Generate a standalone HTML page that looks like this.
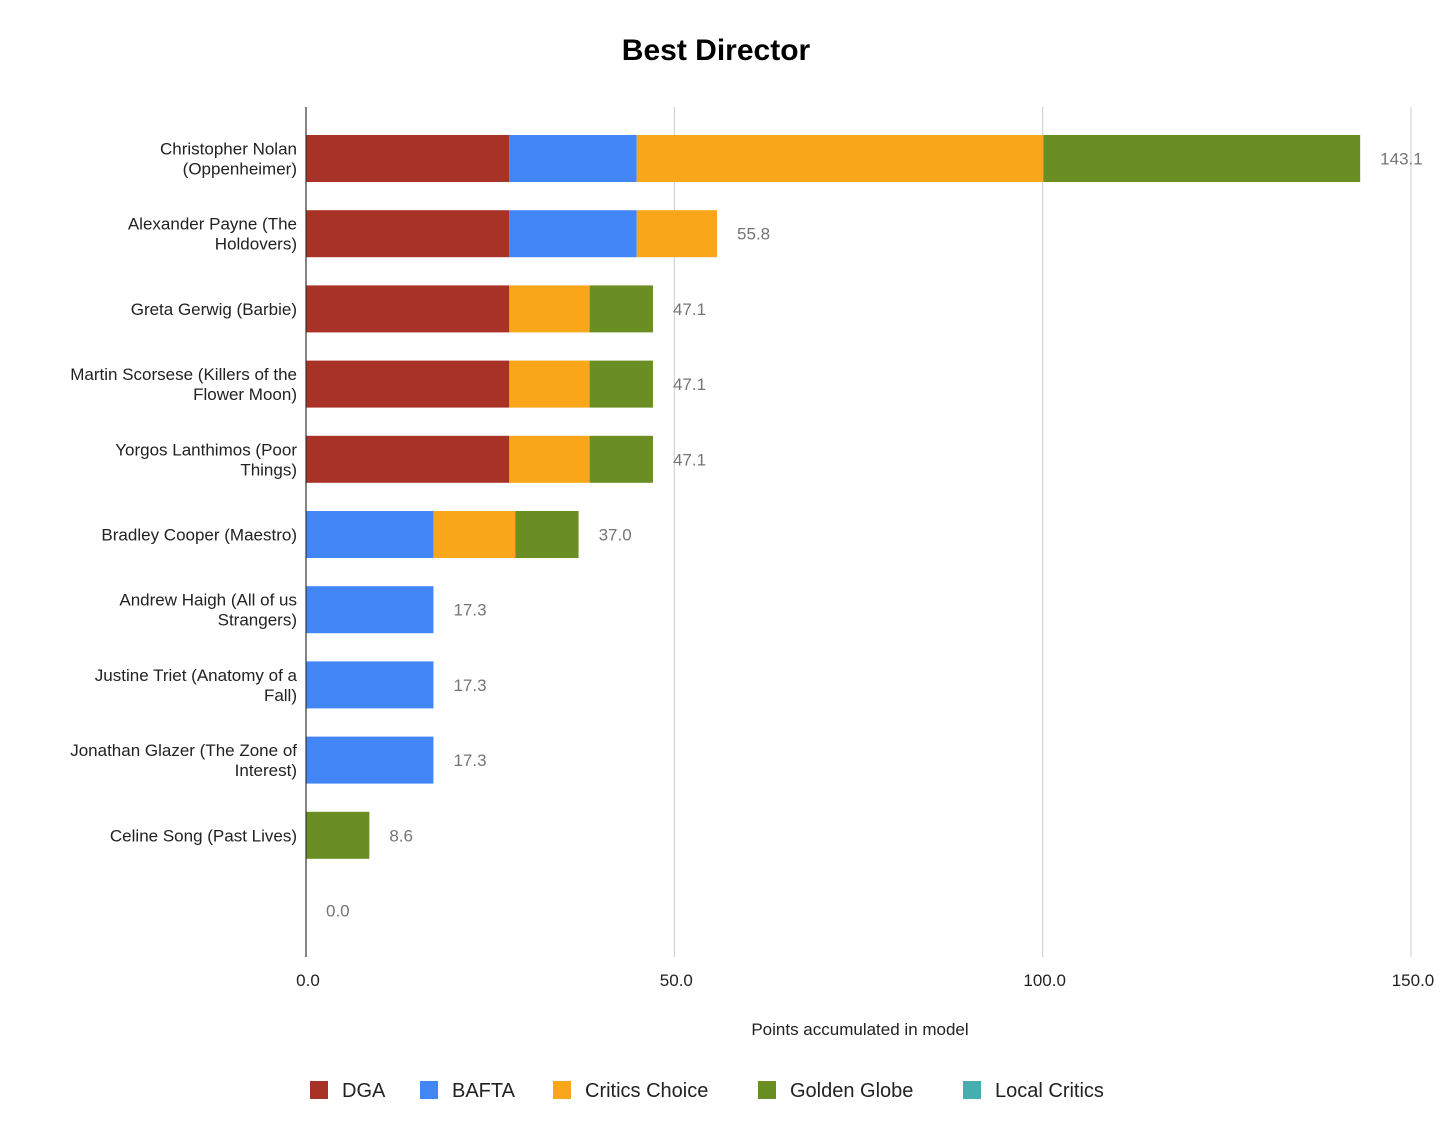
<!DOCTYPE html>
<html><head><meta charset="utf-8"><style>
body{margin:0;background:#fff;font-family:"Liberation Sans",Arial,sans-serif;}
</style></head><body>
<svg id="chart" width="1456" height="1125" xmlns="http://www.w3.org/2000/svg"></svg>
<script>
const categories=[["Christopher Nolan","(Oppenheimer)"],["Alexander Payne (The","Holdovers)"],["Greta Gerwig (Barbie)"],["Martin Scorsese (Killers of the","Flower Moon)"],["Yorgos Lanthimos (Poor","Things)"],["Bradley Cooper (Maestro)"],["Andrew Haigh (All of us","Strangers)"],["Justine Triet (Anatomy of a","Fall)"],["Jonathan Glazer (The Zone of","Interest)"],["Celine Song (Past Lives)"],[""]];
const seriesNames=["DGA","BAFTA","Critics Choice","Golden Globe","Local Critics"];
const dga=[27.6,27.6,27.6,27.6,27.6,0,0,0,0,0,0];
const bafta=[17.3,17.3,0,0,0,17.3,17.3,17.3,17.3,0,0];
const critics=[55.2,10.9,10.9,10.9,10.9,11.1,0,0,0,0,0];
const globe=[43.0,0,8.6,8.6,8.6,8.6,0,0,0,8.6,0];
const local=[0,0,0,0,0,0,0,0,0,0,0];
const xTicks=[0,50,100,150];
const colors=["#a93226","#4285f4","#f9a61a","#6a8e23","#46aeae"];
const series=[dga,bafta,critics,globe,local];
const svg=document.getElementById('chart');
const NS="http://www.w3.org/2000/svg";
function mk(t,a,txt){const e=document.createElementNS(NS,t);for(const k in a)e.setAttribute(k,a[k]);if(txt!==undefined)e.textContent=txt;svg.appendChild(e);return e;}
const x0=306,pxPer=(1411-306)/150,plotTop=107,plotBottom=957;
const X=v=>x0+v*pxPer;
const rowStep=75.2,firstTop=135,barH=47;
const Y=i=>firstTop+i*rowStep;
let e;
e=mk('text',{x:716,y:60,'text-anchor':'middle','font-size':30,'font-weight':'bold',fill:'#000'},'Best Director');


xTicks.forEach(t=>{
 if(t>0){e=mk('line',{x1:X(t),x2:X(t),y1:plotTop,y2:plotBottom,stroke:'#cccccc','stroke-width':1});
 
 }
 e=mk('text',{x:X(t)+2,y:986,'text-anchor':'middle','font-size':17,fill:'#222'},t.toFixed(1));
 
 
});
categories.forEach((c,i)=>{
 let acc=0;
 series.forEach((s,k)=>{
  if(s[i]>0){
   e=mk('rect',{x:X(acc),y:Y(i),width:X(acc+s[i])-X(acc),height:barH,fill:colors[k]});
   
   
   acc+=s[i];
  }
 });
 const total=series.reduce((a,s)=>a+s[i],0);
 e=mk('text',{x:X(total)+20,y:Y(i)+barH/2+6,'font-size':17,fill:'#757575'},total.toFixed(1));
 
 
 const cy=Y(i)+barH/2;
 c.forEach((line,j)=>{
  const yy=c.length===1?cy+6:cy-4+j*20;
  e=mk('text',{x:297,y:yy,'text-anchor':'end','font-size':17,fill:'#222'},line);
  
  
 });
});
e=mk('line',{x1:x0,x2:x0,y1:plotTop,y2:plotBottom,stroke:'#333','stroke-width':1.2});


e=mk('text',{x:860,y:1035,'text-anchor':'middle','font-size':17,fill:'#222'},'Points accumulated in model');


const legX=[310,420,553,758,963];
seriesNames.forEach((n,k)=>{
 e=mk('rect',{x:legX[k],y:1081,width:18,height:18,fill:colors[k]});
 
 
 e=mk('text',{x:legX[k]+32,y:1097,'font-size':20,fill:'#222'},n);
 
 
});
</script>
</body></html>
